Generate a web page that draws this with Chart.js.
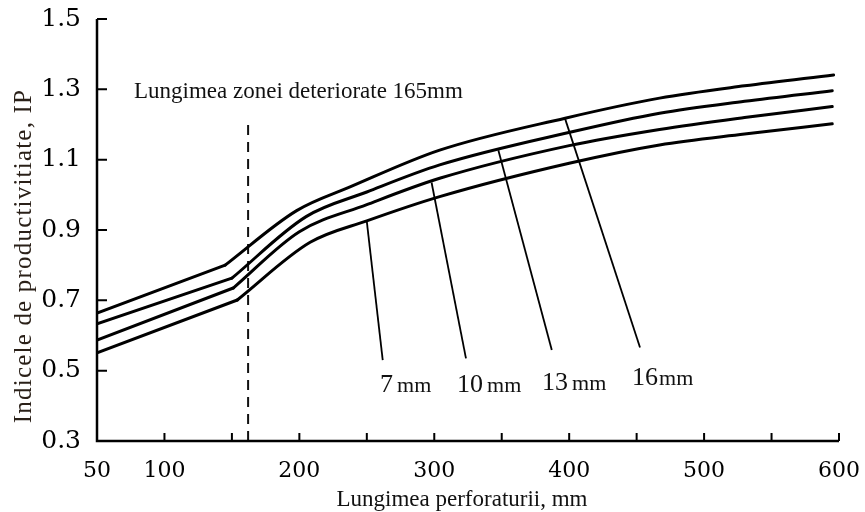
<!DOCTYPE html>
<html><head><meta charset="utf-8">
<script src="https://cdn.jsdelivr.net/npm/chart.js@4"></script>
<style>html,body{margin:0;padding:0;background:#fff}</style>
</head><body>
<canvas id="c" width="865" height="512"></canvas>
<script>
// ---- data ----
const xTickLabels = [50, 100, 200, 300, 400, 500, 600];
const yTickLabels = [0.3, 0.5, 0.7, 0.9, 1.1, 1.3, 1.5];

// each curve: straight from 50 to the knee (index 1), then a smooth curve
const x16 = [50, 145, 198, 238, 304, 397, 467, 530, 596];
const y16 = [0.664, 0.800, 0.955, 1.023, 1.127, 1.218, 1.275, 1.310, 1.341];
const x13 = [50, 150, 205, 250, 304, 403, 467, 530, 595];
const y13 = [0.633, 0.763, 0.938, 1.008, 1.085, 1.180, 1.232, 1.266, 1.296];
const x10 = [50, 151, 200, 250, 304, 400, 467, 530, 595];
const y10 = [0.587, 0.735, 0.895, 0.972, 1.047, 1.140, 1.186, 1.220, 1.251];
const x7  = [50, 154, 208, 250, 304, 400, 467, 530, 595];
const y7  = [0.551, 0.701, 0.865, 0.926, 0.995, 1.090, 1.142, 1.173, 1.202];

const boundaryX = 162;
const boundaryTop = 1.218;
const boundaryText = 'Lungimea zonei deteriorate 165mm';
const boundaryTextX = 77.4;
const boundaryTextY = 1.276;

const seriesLabels = ['7', '10', '13', '16'];
const unitLabel = 'mm';
const leaderTopX = [250, 298, 347.5, 397];
const leaderTopY = [0.924, 1.035, 1.127, 1.216];
const leaderBottomX = [261.8, 323.5, 387.1, 452.5];
const leaderBottomY = [0.530, 0.535, 0.559, 0.566];
const labelX = [259.8, 316.9, 379.9, 446.6];
const labelY = [0.440, 0.440, 0.445, 0.459];

const xTitle = 'Lungimea perforaturii, mm';
const yTitle = 'Indicele de productivitiate, IP';

// ---- build datasets ----
const pts = (xs, ys) => xs.map((x, i) => ({x, y: ys[i]}));
const KNEE = 1;
const datasets = [];
[[x16, y16], [x13, y13], [x10, y10], [x7, y7]].forEach(([xs, ys]) => {
  const all = pts(xs, ys);
  datasets.push({data: all.slice(0, KNEE + 1), borderColor: '#000', borderWidth: 3, pointRadius: 0, tension: 0,
    borderJoinStyle: 'round', borderCapStyle: 'round'});
  datasets.push({data: all.slice(KNEE), borderColor: '#000', borderWidth: 3, pointRadius: 0,
    cubicInterpolationMode: 'monotone', borderCapStyle: 'round'});
});
datasets.push({data: [{x: boundaryX, y: 0.3}, {x: boundaryX, y: boundaryTop}], borderColor: '#111', borderWidth: 2,
  borderDash: [10, 7], pointRadius: 0, tension: 0});
for (let i = 0; i < leaderTopX.length; i++) {
  datasets.push({data: [{x: leaderTopX[i], y: leaderTopY[i]}, {x: leaderBottomX[i], y: leaderBottomY[i]}],
    borderColor: '#000', borderWidth: 1.8, pointRadius: 0, tension: 0});
}

const decor = {
  id: 'decor',
  afterDraw(chart) {
    const {ctx, chartArea: a, scales: {x, y}} = chart;
    ctx.save();
    ctx.strokeStyle = '#000';
    ctx.lineWidth = 2.5;
    ctx.lineCap = 'butt';
    ctx.beginPath();
    ctx.moveTo(a.left, a.top); ctx.lineTo(a.left, a.bottom); ctx.lineTo(a.right, a.bottom);
    ctx.stroke();
    ctx.lineWidth = 2;
    ctx.beginPath();
    for (let v = 100; v <= 600; v += 50) {
      const px = x.getPixelForValue(v);
      ctx.moveTo(px, a.bottom); ctx.lineTo(px, a.bottom - 8);
    }
    yTickLabels.forEach(v => {
      if (v <= 0.3) return;
      const py = y.getPixelForValue(v);
      ctx.moveTo(a.left, py); ctx.lineTo(a.left + 10, py);
    });
    ctx.stroke();

    ctx.fillStyle = '#111';
    ctx.font = '23px "Liberation Serif"';
    ctx.textAlign = 'left';
    ctx.textBaseline = 'alphabetic';
    ctx.fillText(boundaryText, x.getPixelForValue(boundaryTextX), y.getPixelForValue(boundaryTextY));

    seriesLabels.forEach((s, i) => {
      const px = x.getPixelForValue(labelX[i]);
      const py = y.getPixelForValue(labelY[i]);
      ctx.font = '26px "Liberation Serif"';
      ctx.fillText(s, px, py);
      const w = ctx.measureText(s).width;
      ctx.font = '22px "Liberation Serif"';
      ctx.fillText(unitLabel, px + w + (i === 3 ? 1 : 4), py);
    });

    ctx.font = '23px "Liberation Serif"';
    ctx.textAlign = 'center';
    ctx.fillText(xTitle, 462, 506);

    ctx.save();
    ctx.translate(31, 256);
    ctx.rotate(-Math.PI / 2);
    ctx.font = '25px "Liberation Serif"';
    try { ctx.letterSpacing = '1.2px'; } catch (e) {}
    ctx.fillStyle = '#2a2018';
    ctx.textAlign = 'center';
    ctx.fillText(yTitle, 0, 0);
    ctx.restore();

    ctx.restore();
  }
};

const zeroPad = s => { s.paddingTop = 0; s.paddingBottom = 0; s.paddingLeft = 0; s.paddingRight = 0; };

new Chart(document.getElementById('c'), {
  type: 'line',
  data: {datasets},
  options: {
    responsive: false,
    animation: false,
    layout: {padding: {left: 0, right: 26, top: 19, bottom: 0}},
    plugins: {legend: {display: false}, tooltip: {enabled: false}},
    scales: {
      x: {
        type: 'linear', min: 50, max: 600,
        afterBuildTicks: s => { s.ticks = xTickLabels.map(v => ({value: v})); },
        afterFit: s => { s.height = 71; zeroPad(s); },
        grid: {display: false, drawTicks: false},
        border: {display: false},
        ticks: {color: '#000', font: {family: 'DejaVu Serif', size: 22}, padding: 17, maxRotation: 0, autoSkip: false,
          callback: v => String(v)}
      },
      y: {
        type: 'linear', min: 0.3, max: 1.5,
        afterBuildTicks: s => { s.ticks = yTickLabels.map(v => ({value: v})); },
        afterFit: s => { s.width = 97; zeroPad(s); },
        grid: {display: false, drawTicks: false},
        border: {display: false},
        ticks: {color: '#000', font: {family: 'DejaVu Serif', size: 25}, padding: 16,
          callback: v => Number(v).toFixed(1)}
      }
    }
  },
  plugins: [decor]
});
</script>
</body></html>
